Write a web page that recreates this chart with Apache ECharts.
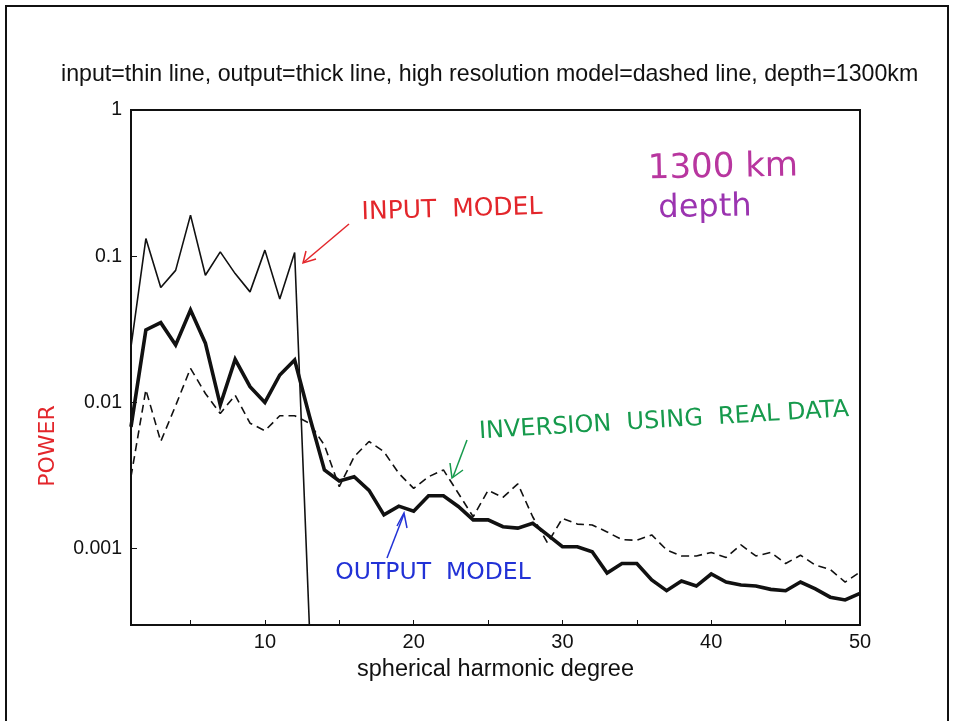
<!DOCTYPE html>
<html><head><meta charset="utf-8">
<script src="https://cdn.jsdelivr.net/npm/echarts@6/dist/echarts.min.js"></script>
<style>html,body{margin:0;padding:0;background:#fff}#c{width:954px;height:721px}</style>
</head><body><div id="c"></div>
<script>
const degrees = Array.from({length: 50}, (_, i) => i + 1);
const inputModel = [0.024, 0.132, 0.061, 0.080, 0.191, 0.074, 0.107, 0.076, 0.057, 0.110, 0.051, 0.106, 0.00028];
const outputModel = [0.0068, 0.0313, 0.0351, 0.0247, 0.0428, 0.0254, 0.0096, 0.0197, 0.0128, 0.0100,
  0.0154, 0.0195, 0.0080, 0.00345, 0.0029, 0.0031, 0.0025, 0.0017, 0.00195, 0.0018,
  0.0023, 0.0023, 0.00194, 0.00157, 0.00157, 0.00141, 0.00138, 0.00149, 0.00124, 0.00103,
  0.00103, 0.00095, 0.00068, 0.00079, 0.00079, 0.00061, 0.000515, 0.0006, 0.000554, 0.00067,
  0.00059, 0.000564, 0.000555, 0.000526, 0.000515, 0.00059, 0.00053, 0.000465, 0.000445, 0.000494];
const highResModel = [0.0031, 0.0122, 0.0054, 0.0095, 0.0171, 0.0115, 0.0084, 0.0112, 0.0072, 0.0064,
  0.0081, 0.0081, 0.0072, 0.0051, 0.00265, 0.00425, 0.0054, 0.0046, 0.00327, 0.00258,
  0.0031, 0.00345, 0.00239, 0.00165, 0.0025, 0.00224, 0.00277, 0.00165, 0.00109, 0.00161,
  0.00147, 0.00145, 0.0013, 0.00115, 0.00114, 0.00124, 0.00098, 0.00089, 0.00089, 0.00094,
  0.00087, 0.00106, 0.00089, 0.00094, 0.00079, 0.0009, 0.00077, 0.00072, 0.00059, 0.00069];
const yTickValues = [0.001, 0.01, 0.1, 1];
const xTickValues = [5, 10, 15, 20, 25, 30, 35, 40, 45, 50];
const xLabelValues = [10, 20, 30, 40, 50];

const pairs = arr => arr.map((v, i) => [degrees[i], v]);
const FONT = '"Liberation Sans", Arial, sans-serif';
const HAND = '"DejaVu Sans", sans-serif';

const chart = echarts.init(document.getElementById('c'));
chart.setOption({
  animation: false,
  backgroundColor: '#fff',
  title: {
    text: 'input=thin line, output=thick line, high resolution model=dashed line, depth=1300km',
    left: 56, top: 58,
    textStyle: {fontFamily: FONT, fontSize: 23.2, fontWeight: 'normal', color: '#111'}
  },
  grid: {left: 131, right: 94, top: 110, bottom: 96, show: true, borderColor: '#111', borderWidth: 2, backgroundColor: 'transparent'},
  xAxis: {
    type: 'value', min: 1, max: 50,
    name: 'spherical harmonic degree', nameLocation: 'middle', nameGap: 33,
    nameTextStyle: {fontFamily: FONT, fontSize: 23.5, color: '#111'},
    axisLine: {show: true, onZero: false, lineStyle: {color: '#111', width: 2}},
    axisTick: {show: true, inside: true, length: 5, customValues: xTickValues, lineStyle: {color: '#111', width: 1}},
    axisLabel: {customValues: xLabelValues, fontFamily: FONT, fontSize: 20, color: '#111', margin: 7},
    splitLine: {show: false}
  },
  yAxis: {
    type: 'log', logBase: 10, min: 0.0003, max: 1,
    axisLine: {show: true, lineStyle: {color: '#111', width: 2}},
    axisTick: {show: true, inside: true, length: 6, customValues: yTickValues, lineStyle: {color: '#111', width: 1}},
    axisLabel: {customValues: yTickValues, fontFamily: FONT, fontSize: 19.5, color: '#111', margin: 9,
      formatter: v => String(+v.toPrecision(6))},
    splitLine: {show: false}
  },
  series: [
    {name: 'input', type: 'line', data: pairs(inputModel), showSymbol: false, clip: true,
      lineStyle: {color: '#111', width: 1.6}},
    {name: 'output', type: 'line', data: pairs(outputModel), showSymbol: false, clip: true,
      lineStyle: {color: '#111', width: 3.6, join: 'miter'}},
    {name: 'high resolution', type: 'line', data: pairs(highResModel), showSymbol: false, clip: true,
      lineStyle: {color: '#111', width: 1.6, type: [8, 5]}}
  ],
  graphic: [
    {type: 'rect', shape: {x: 6, y: 6, width: 942, height: 760}, style: {fill: 'none', stroke: '#111', lineWidth: 2}, silent: true},
    {type: 'text', x: 452, y: 210, rotation: 0.03, style: {text: 'INPUT  MODEL', fill: '#e3262b', font: '25px ' + HAND, align: 'center', verticalAlign: 'middle'}},
    {type: 'polyline', shape: {points: [[349, 224], [304, 262]]}, style: {stroke: '#e3262b', lineWidth: 1.5, fill: 'none'}},
    {type: 'polyline', shape: {points: [[306, 251], [303, 263], [316, 259]]}, style: {stroke: '#e3262b', lineWidth: 1.5, fill: 'none'}},
    {type: 'text', x: 723, y: 168, rotation: 0.02, style: {text: '1300 km', fill: '#b8369f', font: '34px ' + HAND, align: 'center', verticalAlign: 'middle'}},
    {type: 'text', x: 705, y: 208, rotation: 0.02, style: {text: 'depth', fill: '#9b34b0', font: '32px ' + HAND, align: 'center', verticalAlign: 'middle'}},
    {type: 'text', x: 664, y: 421, rotation: 0.06, style: {text: 'INVERSION  USING  REAL DATA', fill: '#169a4c', font: '24px ' + HAND, align: 'center', verticalAlign: 'middle'}},
    {type: 'polyline', shape: {points: [[467, 440], [453, 477]]}, style: {stroke: '#169a4c', lineWidth: 1.5, fill: 'none'}},
    {type: 'polyline', shape: {points: [[450, 463], [452, 478], [463, 470]]}, style: {stroke: '#169a4c', lineWidth: 1.5, fill: 'none'}},
    {type: 'text', x: 433, y: 573, style: {text: 'OUTPUT  MODEL', fill: '#2232d6', font: '23.5px ' + HAND, align: 'center', verticalAlign: 'middle'}},
    {type: 'polyline', shape: {points: [[387, 558], [404, 514]]}, style: {stroke: '#2232d6', lineWidth: 1.5, fill: 'none'}},
    {type: 'polyline', shape: {points: [[397, 526], [404, 513], [407, 528]]}, style: {stroke: '#2232d6', lineWidth: 1.5, fill: 'none'}},
    {type: 'text', x: 48, y: 446, rotation: Math.PI / 2, style: {text: 'POWER', fill: '#e3262b', font: '22px ' + HAND, align: 'center', verticalAlign: 'middle'}}
  ]
});
</script></body></html>
